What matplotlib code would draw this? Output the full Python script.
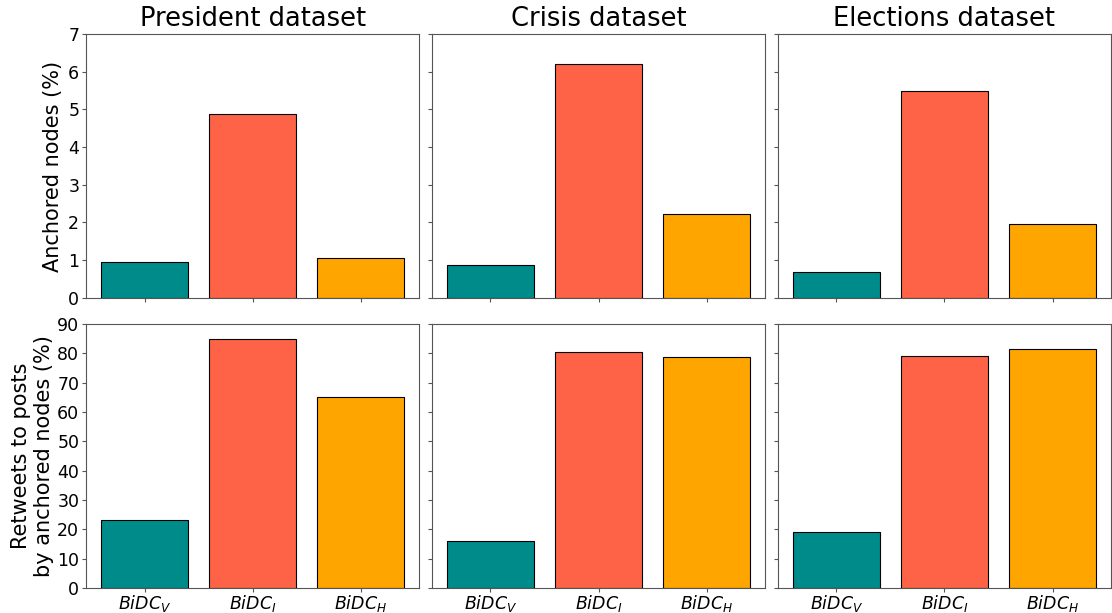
import numpy as np
import matplotlib.pyplot as plt

datasets = ["President dataset", "Crisis dataset", "Elections dataset"]
methods = [r"$BiDC_V$", r"$BiDC_I$", r"$BiDC_H$"]
colors = ["darkcyan", "tomato", "orange"]

anchored_president = [0.96, 4.88, 1.07]
anchored_crisis = [0.87, 6.2, 2.23]
anchored_elections = [0.69, 5.48, 1.97]

retweets_president = [23.2, 85.0, 65.0]
retweets_crisis = [16.1, 80.3, 78.6]
retweets_elections = [18.9, 79.2, 81.6]

anchored = [anchored_president, anchored_crisis, anchored_elections]
retweets = [retweets_president, retweets_crisis, retweets_elections]

fig, axes = plt.subplots(2, 3, figsize=(11.12, 6.13), dpi=100, sharex=True, sharey="row")
fig.subplots_adjust(left=0.0775, right=0.999, top=0.9445, bottom=0.041, wspace=0.039, hspace=0.099)

x = np.arange(len(methods))
for j in range(3):
    ax = axes[0, j]
    ax.bar(x, anchored[j], width=0.8, color=colors, edgecolor="black", linewidth=0.8)
    ax.set_title(datasets[j], fontsize=18.5)
    ax.set_ylim(0, 7)
    ax.set_yticks(range(0, 8))
    ax = axes[1, j]
    ax.bar(x, retweets[j], width=0.8, color=colors, edgecolor="black", linewidth=0.8)
    ax.set_ylim(0, 90)
    ax.set_yticks(range(0, 91, 10))

for ax in axes.flat:
    ax.tick_params(labelsize=12.5, color="#555555", length=3, pad=2)
    ax.tick_params(axis="x", pad=0.5)
    for s in ax.spines.values():
        s.set_color("#555555")

axes[1, 0].set_xticks(x)
axes[1, 0].set_xticklabels(methods)
axes[0, 0].set_ylabel("Anchored nodes (%)", fontsize=15)
axes[1, 0].set_ylabel("Retweets to posts\nby anchored nodes (%)", fontsize=15, labelpad=2)

plt.savefig("out.png")
